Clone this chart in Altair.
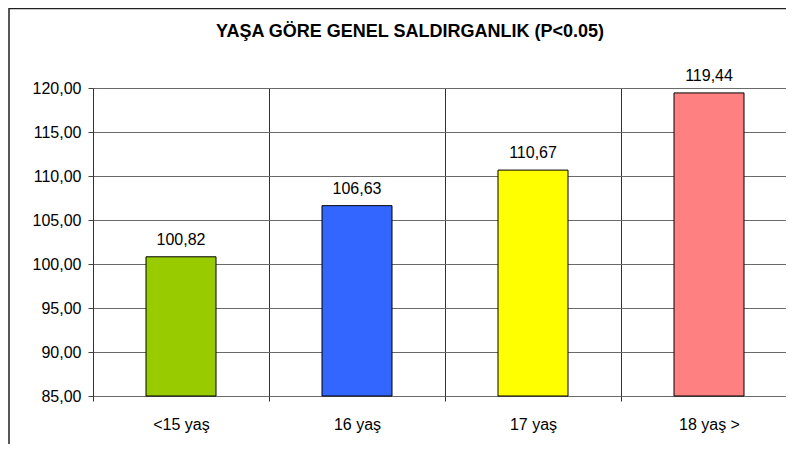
import altair as alt
import pandas as pd

categories = ["<15 yaş", "16 yaş", "17 yaş", "18 yaş >"]
values = [100.82, 106.63, 110.67, 119.44]
labels = ["100,82", "106,63", "110,67", "119,44"]
colors = ["#99CC00", "#3366FF", "#FFFF00", "#FF8080"]
y_ticks = [85, 90, 95, 100, 105, 110, 115, 120]
title_text = "YAŞA GÖRE GENEL SALDIRGANLIK (P<0.05)"

df = pd.DataFrame({"cat": categories, "val": values, "lab": labels, "col": colors})

FONT = "Liberation Sans"

x_enc = alt.X(
    "cat:N",
    sort=categories,
    scale=alt.Scale(paddingInner=0, paddingOuter=0, range=[0, 704]),
    axis=alt.Axis(
        title=None, labelAngle=0, grid=True, tickBand="extent",
        gridColor="#333333", gridWidth=1, tickColor="#333333", tickSize=5,
        domain=False, labelFont=FONT, labelFontSize=16, labelColor="black",
        labelPadding=15,
    ),
)
y_enc = alt.Y(
    "val:Q",
    scale=alt.Scale(domain=[85, 120], zero=False, nice=False),
    axis=alt.Axis(
        title=None, values=y_ticks, grid=True, gridColor="#6a6a6a", gridWidth=1,
        tickColor="#444444", tickSize=5, domainColor="#333333",
        labelFont=FONT, labelFontSize=16, labelColor="black", labelPadding=7,
        labelExpr="replace(format(datum.value, '.2f'), '.', ',')",
    ),
)

bars = alt.Chart(df).mark_bar(size=70, stroke="black", strokeWidth=1).encode(
    x=x_enc,
    y=y_enc,
    y2=alt.datum(85),
    color=alt.Color("col:N", scale=None, legend=None),
)

text = alt.Chart(df).mark_text(
    baseline="bottom", dy=-9, font=FONT, fontSize=16, color="black"
).encode(
    x=alt.X("cat:N", sort=categories),
    y=alt.Y("val:Q"),
    text="lab:N",
)

title_df = pd.DataFrame({"t": [title_text]})
title = alt.Chart(title_df).mark_text(
    font=FONT, fontSize=18, fontWeight="bold", color="black",
    align="center", baseline="alphabetic",
).encode(x=alt.value(317), y=alt.value(-51), text="t:N")

frame = alt.Chart(alt.Data(values=[{"a": 1}])).mark_rect(
    fill=None, stroke="#222222", strokeWidth=1.5
).encode(
    x=alt.value(-84), x2=alt.value(900), y=alt.value(-79.5), y2=alt.value(500)
)

chart = alt.layer(frame, bars, text, title).properties(
    width=693,
    height=308,
    autosize=alt.AutoSizeParams(type="none"),
    padding={"left": 85, "top": 80, "right": 0, "bottom": 48},
).configure_view(stroke=None).configure(background="white")

chart.save("out.html", embed_options={"renderer": "svg", "actions": False})
